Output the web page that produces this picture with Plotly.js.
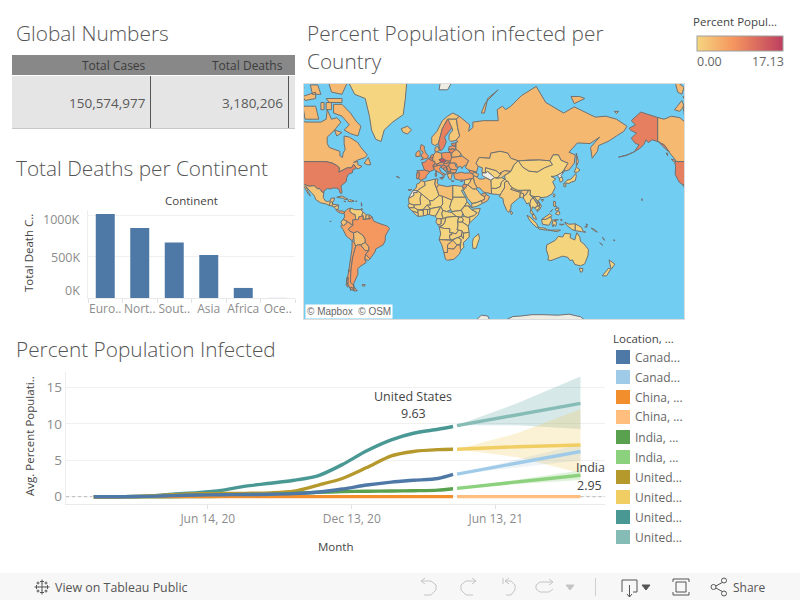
<!DOCTYPE html>
<html><head><meta charset="utf-8"><script src="https://cdn.plot.ly/plotly-3.0.1.min.js"></script>
<style>html,body{margin:0;padding:0;background:#fff}</style></head>
<body><div id="g" style="width:800px;height:600px"></div>
<script>
// ---------- table ----------
const tableHeaders = ["Total Cases","Total Deaths"];
const tableValues  = ["150,574,977","3,180,206"];
// ---------- bars ----------
const continents = ["Euro..","Nort..","Sout..","Asia","Africa","Oce.."];
const continentDeaths = [1016750,847942,672415,520269,121784,1046];
const deathTicks = [0,500000,1000000];
const deathTickLabels = ["0K","500K","1000K"];
// ---------- lines ----------
const months = ["2020-01-22","2020-02-01","2020-03-01","2020-04-01","2020-05-01","2020-06-01","2020-07-01","2020-08-01","2020-09-01","2020-10-01","2020-11-01","2020-12-01","2021-01-01","2021-02-01","2021-03-01","2021-04-01","2021-04-20"];
const usActual     = [0,0,0.01,0.1,0.35,0.55,0.85,1.45,1.85,2.25,2.9,4.4,6.3,7.8,8.7,9.25,9.63];
const ukActual     = [0,0,0.01,0.1,0.26,0.4,0.43,0.46,0.52,0.75,1.6,2.5,4.0,5.6,6.2,6.45,6.5];
const indiaActual  = [0,0,0,0,0,0.02,0.05,0.12,0.27,0.46,0.6,0.7,0.75,0.78,0.82,0.9,1.1];
const chinaActual  = [0,0,0.005,0.006,0.006,0.006,0.006,0.006,0.006,0.006,0.006,0.007,0.007,0.007,0.007,0.007,0.007];
const canadaActual = [0,0,0.002,0.05,0.15,0.23,0.27,0.3,0.33,0.42,0.65,1.05,1.6,2.0,2.25,2.5,3.05];
const fcDates = ["2021-04-25","2021-07-10","2021-09-28"];
const usFc     = [9.75,11.2,12.8],  usHi=[9.8,12.8,16.5], usLo=[9.8,9.8,9.3];
const ukFc     = [6.5,6.85,7.1],    ukHi=[6.5,8.7,12.0],  ukLo=[6.5,5.4,3.25];
const canadaFc = [3.1,4.6,6.2],     canadaHi=[3.1,5.1,7.2], canadaLo=[3.1,4.0,5.0];
const indiaFc  = [1.15,2.0,2.95],   indiaHi=[1.15,2.3,3.6], indiaLo=[1.15,1.75,2.3];
const chinaFc  = [0.007,0.007,0.007];
const legendLabels = ["Canad...","Canad...","China, ...","China, ...","India, ...","India, ...","United...","United...","United...","United..."];
const legendColors = ["#4e79a7","#a0cbe8","#f28e2b","#ffbe7d","#59a14f","#8cd17d","#b6992d","#f1ce63","#499894","#86bcb6"];
// ---------- map: [name, percent infected (null = no data), polygons as lon,lat lists] ----------
const countries = [
["Canada",3.2,[[-141,69.6,-135,69,-128,70,-120,69.5,-115,68,-108,68,-100,68,-95,69,-94,72,-90,69,-85,69.5,-81,68,-87,65,-94,62,-94,59,-92,57,-85,55.5,-82,55,-82,52.5,-79.5,51.5,-79,54,-77,56,-78,59,-78,62.5,-73,62,-70,61,-65,59.5,-62,57,-56,53,-58,51.5,-65,50,-69,48.5,-65,49,-65,47,-61,46,-64,44.5,-66,44.5,-67,45.5,-69,47.3,-71,45,-75,45,-79,43.5,-83,42,-82.5,45,-85,46.5,-89,48,-95,49,-123,49,-130,54.5,-135,58.5,-137.5,59,-141,60.3],
[-80,73.5,-72,71,-66,68,-62,66.5,-65,62.5,-72,63.5,-78,65,-73,67,-80,70,-88,71,-88,73.5],[-117,73,-105,73,-102,69,-115,69],[-90,76.5,-80,76,-76,78,-65,81,-70,83,-90,82,-95,80],[-125,72,-118,74.5,-116,73,-120,71.5],[-95,75,-80,75,-80,74,-92,74],[-95,72,-90,72,-90,74,-95,74],[-117,75.5,-105,76.5,-105,75,-115,74.5],[-87,65,-80,64,-85,62.5],[-59,48,-55,51.5,-52.7,47,-56,47],[-128,50.5,-125,50,-123.5,48.5,-125.5,48.8],[-100,74,-97,74,-97,72,-100,72],[-110,78,-103,78,-100,76,-108,76],[-125,79,-116,77.5,-118,76,-122,76.5],[-133,54,-131.5,54,-131.5,52.5]]],
["USA",9.77,[[-124.7,48.4,-123,49,-95,49,-89,48,-85,46.5,-82.5,45,-83,42,-79,43.5,-75,45,-71,45,-69,47.3,-67,45.5,-67,44.5,-70,43.5,-70,41.7,-74,40.5,-75.5,38,-76,35,-78,33.8,-81,31.5,-80,27,-80.5,25.2,-82,26,-83,29,-85,29.7,-89,30,-90,29,-94,29.5,-97,27.5,-97.2,26,-99,26.5,-101.5,29.7,-103,29,-106.5,31.8,-111,31.3,-114.8,32.5,-117.1,32.5,-120.5,34.5,-122.5,37.5,-124.3,40.4,-124,46],
[-141,69.6,-141,60.3,-137.5,59,-135,58.5,-130,54.8,-133,56,-137,58.2,-140,59.8,-146,60.8,-150,59.5,-152,60.8,-154,58.5,-158,56.5,-163,54.8,-158.5,58.5,-162,59,-166,61.5,-161,63.8,-166,64.7,-168,65.7,-162,67,-166,68.5,-157,71.3,-150,70.5],[-163,54.8,-170,52.8,-178,51.7,-170,53],[-156,20.8,-155,19.7,-155.8,19,-156,19.8]]],
["Mexico",1.8,[[-117.1,32.5,-114.8,32.5,-111,31.3,-106.5,31.8,-103,29,-101.5,29.7,-99,26.5,-97.2,26,-97.8,22,-96,19,-94,18.2,-91,18.8,-90.5,21,-87,21.5,-88,18.3,-89,17.8,-91,17.8,-92.2,14.6,-95,16,-100,17,-105,20,-106,23,-109,26,-112.5,30,-114.7,31.7,-112,27,-110,23,-112,25,-115,29]]],
["Guatemala",1.3,[[-92.2,14.6,-91,17.8,-89,17.8,-89,15.9,-88.2,15.7,-89.5,14.2]]],
["Honduras",2,[[-89,15.9,-83.2,15,-84,14,-87.5,13,-89.5,14.2]]],
["Nicaragua",0.1,[[-83.2,15,-83.7,11,-85.7,11,-87.5,13]]],
["Panama",6,[[-85.7,11,-83.7,11,-82.6,9.5,-79.5,9.6,-77.4,8.7,-78,7.3,-80.5,7.3,-83,8.2,-85.5,10]]],
["Cuba",0.9,[[-85,22,-80,23.2,-74.2,20.2,-77.5,19.9,-78,21]]],
["Hispaniola",1.9,[[-74.4,18.5,-72.8,20,-68.5,18.7,-71,18]]],
["Jamaica",1.5,[[-78.3,18.4,-76.3,18.1,-77,17.8]]],
["Puerto Rico",3,[[-67.2,18.5,-65.7,18.4,-66,18]]],
["Antilles",2,[[-61.8,17.2,-61,15,-61.5,14],[-61.5,12.2,-60.5,11,-61.8,10]]],
["Colombia",5.6,[[-77.4,8.7,-75.5,10.8,-72,12.3,-72.5,9,-70,7,-67.5,6.2,-67,1.5,-70,1,-69.5,-4.2,-72,-2.5,-75.5,0,-79,1.5,-77.5,4,-78,7.3]]],
["Venezuela",0.6,[[-72,12.3,-68,10.8,-62,10.7,-60,8.5,-61,6,-61,4.5,-64,4,-64.5,1.5,-67,1.5,-67.5,6.2,-70,7,-72.5,9]]],
["Guyana",1.6,[[-60,8.5,-57,6,-57.5,2,-60,1.5,-60,5,-61,6]]],
["Suriname",1.7,[[-57,6,-54,5.8,-54.5,2.3,-57.5,2]]],
["Guiana",6,[[-54,5.8,-51.7,4.2,-53,2.2,-54.5,2.3]]],
["Ecuador",2.2,[[-80,-3.4,-81,-1,-79,1.5,-75.5,0,-75.3,-1.6,-78.5,-4.5],[-91.5,-0.3,-90.2,-0.3,-91,-1]]],
["Peru",5.5,[[-81.3,-4.5,-80,-3.4,-78.5,-4.5,-75.3,-1.6,-75.5,0,-72,-2.5,-69.9,-4.3,-74,-7.5,-72.5,-9.5,-69,-11,-69,-16,-70.4,-18.3,-76,-14,-79,-8]]],
["Bolivia",2.6,[[-69,-11,-65.5,-9.8,-60,-13.5,-58,-17,-58,-20,-62.5,-22,-65,-22,-67,-23,-68.5,-20,-69,-16]]],
["Paraguay",3.5,[[-58,-20,-62.5,-22,-58,-27,-54.6,-27,-54.5,-24,-55.8,-22]]],
["Chile",6.2,[[-70.4,-18.3,-68.5,-20,-67,-23,-70,-33,-71.5,-42,-72,-50,-69,-52,-68.6,-55,-72,-54,-75.5,-50,-73.5,-42,-72,-33,-70.5,-25],[-74,-42,-73.3,-42,-73.6,-43.5],[-75.5,-47,-74,-47,-74.5,-53,-76,-52],[-72,-53,-69,-53.5,-72,-54.8]]],
["Argentina",6.6,[[-67,-23,-65,-22,-62.5,-22,-58,-27,-54.6,-27,-57.6,-30,-58.4,-34,-57,-36.5,-62,-39,-65,-41,-65,-45,-69,-51,-68.6,-52.5,-69,-52,-72,-50,-71.5,-42,-70,-33],[-68.6,-52.7,-65.5,-55,-68.6,-55]]],
["Uruguay",4.6,[[-58.4,-34,-57.6,-30,-53.5,-33.7,-55,-35]]],
["Brazil",7,[[-51.7,4.2,-50,0,-44,-2.5,-37,-4.8,-35,-7,-39,-14,-39,-18,-41,-22,-48,-25.5,-48.7,-28,-53.5,-33.7,-57.6,-30,-54.6,-27,-54.5,-24,-55.8,-22,-58,-20,-58,-17,-60,-13.5,-65.5,-9.8,-69,-11,-72.5,-9.5,-74,-7.5,-69.9,-4.3,-69.5,-4.2,-70,1,-67,1.5,-64.5,1.5,-64,4,-61,4.5,-60,5,-60,1.5,-57.5,2,-54.5,2.3,-53,2.2]]],
["Falklands",1.7,[[-61,-51.5,-58,-51.5,-58.5,-52.3,-60.5,-52.3]]],
["Greenland",0.05,[[-73,78.2,-60,82,-32,83.5,-18,80,-20,75,-22,70.5,-32,68,-40,65,-43,60,-48,61,-52,65,-54,70,-58,75,-68,76]]],
["Iceland",1.9,[[-24,65.5,-18,66.5,-14,65,-18,63.4,-22,64]]],
["UK",6.5,[[-5.5,50,1.3,51.2,1.7,52.7,0,53.5,-2,56,-2,57.6,-5,58.6,-6,56,-3,54.5,-4.5,53.3,-5,52,-3,51.4]]],
["Ireland",5,[[-10,52,-6,52.2,-6,55,-8,55.3,-10,54]]],
["France",8.6,[[-1.8,43.4,-4.5,48.4,-1.5,48.7,1.5,50.9,4.2,50,8.2,49,7.5,47.5,6,46.2,7.5,43.8,3.2,42.4,0.7,42.8],[8.6,43,9.5,42.8,9.2,41.5]]],
["Spain",7.5,[[-9.2,43,-1.8,43.4,0.7,42.8,3.2,42.4,0,39.5,-0.7,37.7,-5.5,36,-7.4,37.2,-7,42],[-17.5,28.5,-14,28.5,-15.5,27.8]]],
["Portugal",8,[[-9,41.9,-7,42,-7,39.5,-7.4,37.2,-9,37,-9.5,38.8],[-28.5,38.8,-27,38.8,-25.5,37.8,-27.5,38.2]]],
["Netherlands",8.2,[[3.4,51.4,4.7,53,7,53.3,6,51]]],
["Belgium",8.4,[[2.5,51,3.4,51.4,6,51,6,49.5,4.2,50]]],
["Germany",4,[[6,51,7,53.3,9,54.8,14,54,15,51,12,50.2,13.8,48.7,10,47.4,7.5,47.5,8.2,49,6,49.5]]],
["Switzerland",7.4,[[6,46.2,7.5,47.5,10,47.4,10.4,46.5,8.5,46]]],
["Austria",6.9,[[10,47.4,13.8,48.7,17,48.7,16,46.8,12.5,46.7,10.4,46.5]]],
["Italy",6.6,[[7.5,43.8,6.9,45.8,8.5,46,12.5,46.7,13.7,45.7,12.3,44.5,14,42,18.5,40.2,16.9,40.4,16.5,38,15.7,38,15.7,40,12.5,41.5,10.3,43],[12.5,38,15.5,38.2,15,36.7],[8.2,41,9.7,41,9.5,39,8.5,39]]],
["Poland",7.4,[[14,54,19,54.4,23,54.3,24,50.7,22.6,49.2,19,49.4,15,51]]],
["Czechia",15.3,[[12,50.2,15,51,19,49.6,17,48.7,13.8,48.7]]],
["Slovakia",7,[[17,48.7,19,49.5,22.6,49.2,22,48.4,18,47.8]]],
["Hungary",8,[[16,46.8,17,48,18,47.8,22,48.4,21,46.2,18.8,45.9]]],
["Denmark",4.2,[[8,55,8.2,57,10.5,57.7,12.5,55.5,9.8,54.8]]],
["Norway",2,[[5,59,5,62,10,64.5,15,68.5,20,70,25,71,31,70,28.5,69,25,69,20,69,15,65.5,12.5,61,11.3,59,8,58]]],
["Sweden",9.7,[[11.3,59,12.5,61,15,65.5,20,69,23.5,68,24,65.8,21,64,17.2,62,18.8,59.8,16.5,57,14.3,55.5,13,55.5]]],
["Finland",1.6,[[20.5,69,25,69,28.5,69,29.5,66,31.5,62.5,27.8,60.5,23,60,21.3,61,21.5,63,25,65,23.9,66]]],
["Estonia",9,[[23.5,59,28,59.4,27.3,57.6,24.5,58]]],
["Latvia",6,[[21,56,21.5,57.5,24.5,57.8,27.3,57.6,28,56,25,56.3]]],
["Lithuania",8.5,[[21,56,25,56.3,26.7,55.6,24,54,21,55.2]]],
["Belarus",3.8,[[24,54,26.7,55.6,28,56,31,55,32.7,53.4,31,52,24,51.5]]],
["Ukraine",4.8,[[24,51.5,31,52,34,52.3,40,49.6,38,47,35,46,33.6,44.5,32.5,46,30,45.5,29.6,45.3,28,48,22.5,48,22.6,49.2,24,50.7]]],
["Romania",5.5,[[21,46.2,22,48,26.5,48.2,28.2,45.5,29.6,45,28.6,43.7,25,43.7,22.7,44.2]]],
["Bulgaria",5.5,[[22.7,44.2,25,43.7,28.6,43.7,28,42,26,41.4,23,41.5]]],
["Serbia",8,[[18.8,45.9,21,46.2,22.7,44.2,23,42.5,20.5,42.5,19.3,44.5]]],
["Croatia",8,[[13.7,45.4,16,46.8,18.8,45.9,19,45,16,44,18.5,42.5,15,44]]],
["Bosnia",6,[[16,45,19.3,44.8,18.5,42.8,16,44]]],
["Albania",4.5,[[19,42.3,20.5,42.5,20.5,40,19.5,40.5]]],
["Macedonia",7,[[20.5,42.3,23,42.3,23,41.2,20.6,41]]],
["Greece",3,[[20,39.7,20.6,41,26,41.4,24,40.2,23.8,38,23,36.5,21.6,37],[23.5,35.5,26.3,35.3,24.5,35]]],
["Cyprus",7,[[32.3,35,34.5,35.6,33,34.6]]],
["Turkey",5.5,[[26,41.4,26,40,27,37,30,36.3,36,36.2,42.5,37.2,44.6,37.5,44.5,39.7,43.5,41,41.5,41.5,36,41.3,33,42,29,41.2]]],
["Russia",3.3,[[28,56,28,59.4,30,60,27.8,60.5,31.5,62.5,29.5,66,28.5,69,31,70,41,67,40,64.5,44,66,44,68,54,68.5,68,68.5,67,72,72,73,75,72,80,73,90,75.7,104,77.7,113,74,130,71,140,72.8,160,69.7,170,70,180,69,190,66.5,187,64.5,180,62.5,172,60,163,58,162,55,157,51,155.5,57,164,62,155,59,143,59.3,135,54.5,141,53,140,48,135,43.5,131,42.8,130.5,44,134,48,127.5,49.8,125,53,120,53,117,49.5,107,50,98,50,87,49.5,80,51,77,54,70,55,61,54,60,51,50,51.5,47,48,49,46,47.5,42,40,43.5,37,45,38,47,40,49.6,34,52.3,32.7,53.4,31,55],[142,54,144,49,142,46,142,50],[52,71,56,74,68,77,58,75,55,71],[137,75.5,145,75.5,150,75,140,73.7],[178,71.5,182,71.5,180,70.8]]],
["Kazakhstan",1.7,[[47,48,50,51.5,60,51,61,54,70,55,77,54,80,51,87,49.5,83,47,80,42.5,74,43,69,41,66,43,61,44,56,45,56,41.5,52.5,42,53,45,49,46]]],
["Turkmenistan",null,[[52.8,41.5,56,41.5,58,42.5,62,40,66,37.5,64.5,38,61,36,56,38,53,39.5]]],
["Uzbekistan",0.25,[[56,45,61,44,66,43,69,41,71,41,67,38,64.5,38,62,40,58,42.5,56,41.5]]],
["Kyrgyzstan",1.5,[[69,41,74,43,80,42.5,73.5,39.5,70,37,67,37.5,71,41]]],
["Afghanistan",0.15,[[61,36,64.5,38,67,37.5,71,38,74.5,37,71,34.5,70,31,66,29.5,61,29.7]]],
["Pakistan",0.37,[[61,29.7,66,29.5,70,31,71,34.5,74.5,37,77,35,74,30,71,26,70,24,67,24.5,61.7,25]]],
["Iran",2.9,[[44.6,37.5,44.5,39.7,48,38.5,50,37,54,37,56,38,61,36,61,30,61.7,25,57,26,54,26.5,50.5,30,48,30,45.5,34]]],
["Iraq",2.2,[[42.5,37.2,44.6,37.5,45.5,34,48,30,46.5,29,44,29,39,32.5,41,34.5]]],
["Syria",0.12,[[36,36.2,42.5,37.2,41,34.5,39,32.5,36,33]]],
["Jordan",7,[[35,33,36,33,39,32.5,37,30,35,29.5,34.3,31.3]]],
["Saudi Arabia",1.2,[[39,32.5,44,29,46.5,29,48.5,28,50,26,51.5,24.5,55,22.5,55,20,52,19,47,17,43,16.5,42,18,39,21,35,28,37,30]]],
["Yemen",0.02,[[43,12.8,43,16.5,47,17,52,19,53,16.5,48,14]]],
["Oman",3.7,[[52,19,55,20,55,22.5,56.5,24.5,59.8,22.5,58,19,53,16.5]]],
["UAE",5,[[51.5,24.5,56,26,56.5,24.5,55,22.5]]],
["Georgia",7,[[40,43.5,47.5,42,43.5,41,41.5,41.5]]],
["Azerbaijan",3,[[43.5,41,46,41.8,49.5,40.5,48,38.5,44.5,39.7]]],
["Mongolia",0.7,[[87,49.5,98,50,107,50,117,49.5,119.5,47,112,45,105,42,97,42.7,91,45.5]]],
["China",0.007,[[74,39.5,80,42.5,83,47,87,49.5,91,45.5,97,42.7,105,42,112,45,119.5,47,117,49.5,120,53,125,53,127.5,49.8,134,48,130.5,44,128,41.5,124.3,40,121,39,118,39,122.5,37,119.5,35,122,30.5,119,25,114,22.3,108.5,21.7,106,22.7,102,22.5,98,24,98.5,28,92,28,86,28,81,30.2,78.5,33,74.5,37],[108.7,20,111,20,110,18.3]]],
["North Korea",null,[[124.3,40,128,41.5,130.5,42.5,127.5,39.5,128.3,38.6,126,37.7,125,38]]],
["South Korea",0.23,[[126,37.7,128.3,38.6,129.4,36,127,34.5,126.3,35.5]]],
["Japan",0.45,[[131,34,133,36,137,37,140,40,141.5,41,142,39,140.8,35.5,137,34.6,135,33.5],[130,33.5,132,33,132,31,130.3,31],[140,42,142,45.5,145.5,43.5,143,42]]],
["Taiwan",0.01,[[121,25,122,24,120.8,22,120,23.5]]],
["India",1.4,[[74,34.5,77,35.5,78.5,33,81,30.2,80,28.8,88,26.5,89,27,92,28,97,28,94,24,92,23,92,25,89,26,88.5,22,87,21,80.2,15.5,80,12,78,8.2,76,10,73,17,72.5,21,69,22.5,70,24,71,26,74,30]]],
["Nepal",1,[[80,28.8,81,30.2,86,28,88,27.8,88,26.5]]],
["Bangladesh",0.45,[[88.5,22,89,26,92,25,92,23,92,21,90,22]]],
["Sri Lanka",0.5,[[80,9.8,81.8,7.5,80.5,6,79.7,8]]],
["Myanmar",0.26,[[92,21,92,23,94,24,97,28,98.5,28,98,24,101,21.5,99,20,98,16,99,12,98,14,97,17,95,16,94,18]]],
["Thailand",0.08,[[101,21.5,105.5,15,102.5,12.3,100.5,13.5,99.5,10,102,6,100,6.5,98.2,8,99,12,98,16,99,20]]],
["Laos",0.01,[[101,21.5,102,22.5,106,18,107.5,15,105.5,14,105,18]]],
["Vietnam",0.01,[[102,22.5,106,22.7,108.5,21.7,105.8,19,109,14,107,10.5,105,8.7,105,10.5,107.5,14.5,106,18]]],
["Cambodia",0.05,[[102.5,12.3,105.5,14,107.5,14,106,11,104.5,10.5]]],
["Malaysia",1.2,[[100.2,6.5,102,6,103.5,4,104.2,1.5,101,3],[109.6,2,113,4.5,117,7,119,5,117.5,4,113,1.5]]],
["Indonesia",0.6,[[95.3,5.5,98,4,104,-2,106,-5.8,104,-5.8,100,-2,97,2],[109,1.5,113,1.5,117.5,4,119,1,116,-4,110,-3],[105.5,-6.2,111,-6.5,114.5,-7.8,114.5,-8.7,106.5,-7.5],[120,1,125,1.5,121,0,123.3,-1,122.5,-5,120.5,-3,120,-5.5,119,-3],[131,-1,135,-3,141,-2.6,141,-9,138,-8,133,-4],[115,-8.5,120,-8.3,125,-8.3,127,-8.5,124,-10,119,-9.5],[127.3,2,128.7,1,127.6,0],[126,-3,130.5,-3,128,-3.8]]],
["PNG",0.1,[[141,-2.6,147,-6,148,-9,151,-10.5,147,-10,143,-9,141,-9],[150,-5.5,152,-4.2,152,-6],[152.7,-3.2,151,-2.8,152.5,-4]]],
["Philippines",0.9,[[120.5,18.5,122.3,18,122,15,124,13,120.5,14],[122,7,125.5,9.7,126.5,7,125,5.8],[122,11.5,125.5,12.5,125,10,123,9.5],[117.3,8.5,119.5,11,118,9]]],
["Solomon",0.01,[[156,-6.5,160,-8.5,162,-10.5,159,-9]]],
["Vanuatu",0.01,[[166.7,-15,167.6,-16,168.7,-18,168,-16.5]]],
["New Caledonia",0.01,[[164,-20,167,-22.3,165.5,-21.8]]],
["Fiji",0.01,[[177.3,-17.5,178.7,-18,177.5,-18.3]]],
["Australia",0.12,[[114,-22,113.5,-26,115.7,-32,115,-34.5,118,-35,124,-33,129,-31.5,134,-32.5,136,-35,138.5,-34.5,140.5,-38,146,-39,150,-37.5,153,-31,153.5,-26,149,-21,146,-19,145.3,-15,142.5,-11,141.5,-14,140.5,-17.7,136,-15.5,136.8,-12.2,131,-11.5,129,-15,125,-14.3,122,-18,117,-20.5],[144.7,-40.7,148.3,-41,147.5,-43.4,146,-43.5]]],
["New Zealand",0.05,[[172.7,-40.6,174.3,-41.7,170.7,-46,166.5,-46],[173,-34.5,178.5,-37.7,175,-41.5,174,-39]]],
["Morocco",1.4,[[-5.5,35.8,-2,35,-1,32.2,-5,30,-8.7,27.7,-13,27.7,-9.7,30,-9.2,33,-6.5,34]]],
["Western Sahara",null,[[-13,27.7,-8.7,27.7,-8.7,26,-12,26,-12,23.5,-17,21,-15,24.5]]],
["Algeria",0.28,[[-2,35,8.6,37,8,33,9.5,30,12,23.5,6,19,3,19,-4.8,25,-8.7,27.7,-5,30,-1,32.2]]],
["Tunisia",2.6,[[8.6,37,11,37,10.2,34,11.5,32.5,9.5,30,8,33]]],
["Libya",2.5,[[11.5,32.5,15,32,20,31,25,32,25,20,24,19.5,15,23,12,23.5,9.5,30]]],
["Egypt",0.2,[[25,32,31,31.5,34,31.3,35,28,33,28,35.5,24,37,22,25,22]]],
["Mauritania",0.4,[[-17,21,-12,23.5,-12,26,-8.7,26,-8.7,27.7,-4.8,25,-6,21,-5.5,15.5,-12,15,-16.5,16.5]]],
["Mali",0.06,[[-4.8,25,3,19,4,15,0.5,15,-3,11,-8,10.5,-11.5,12.5,-12,15,-5.5,15.5,-6,21]]],
["Niger",0.02,[[3,19,6,19,12,23.5,15,23,15.5,16,13.5,13.5,3.5,11.7,0.5,15,4,15]]],
["Chad",0.03,[[15,23,24,19.5,22,13,24,11,19,9,15.5,10,13.5,13.5,15.5,16]]],
["Sudan",0.08,[[25,22,37,22,38.5,18,36,14,33,11,33,10,24,9,22,13,24,19.5,25,20]]],
["South Sudan",0.09,[[24,9,33,10,34.5,7.5,33.5,3.7,28,4.5,24,8]]],
["Senegal",0.2,[[-17.5,14.7,-16.5,16.5,-12,15,-11.5,12.5,-16.7,12.4]]],
["Guinea",0.17,[[-16.7,12.4,-11.5,12.5,-8,10.5,-8,7.7,-10.5,8.5,-13.5,9.5]]],
["Liberia",0.04,[[-13.5,9.5,-10.5,8.5,-8,7.7,-7.5,4.4,-9,5]]],
["Ivory Coast",0.17,[[-8,10.5,-3,10,-2.8,5,-7.5,4.4,-8,7.7]]],
["Burkina",0.06,[[-3,11,0.5,15,3.5,11.7,2.4,11,-3,10]]],
["Ghana",0.3,[[-3,11,-2.8,5,1,6,1,11]]],
["Benin",0.06,[[1,6,2.8,6.3,3.5,11.7,2.4,11,1,11]]],
["Nigeria",0.08,[[2.8,6.3,4.5,5.5,8.5,4.7,10,7,13.5,13.5,3.5,11.7]]],
["Cameroon",0.25,[[8.5,4.7,9.8,2.2,16,2.2,14.5,7,15.5,10,13.5,13.5,10,7]]],
["CAR",0.13,[[14.5,7,15.5,10,19,9,24,8,28,4.5,18.5,3.5,16,2.2]]],
["Gabon",0.9,[[9.8,2.2,14,2.2,14,-2.5,11,-3.8,9,-1]]],
["Congo",0.2,[[14,2.2,16,2.2,18.5,3.5,17.5,-1,16,-3.5,12,-5,11,-3.8,14,-2.5]]],
["DRC",0.03,[[18.5,3.5,28,4.5,30.5,3.5,29.5,-1,30,-4,29,-8,30.5,-8.5,28,-12,24,-11,22,-11,22,-7,17,-7,13,-6,12.3,-6,16,-3.5,17.5,-1]]],
["Uganda",0.09,[[30.5,3.5,33.5,3.7,35,1.5,34,-1,29.5,-1]]],
["Kenya",0.29,[[34,-1,35,1.5,33.5,3.7,34.5,4.5,36,4.5,39.5,3.5,41,4,41,-1.7,39.5,-4.7]]],
["Ethiopia",0.22,[[33,10,36,14,39,14.5,42.5,11,48,8,45,5,41,4,39.5,3.5,36,4.5,34.5,7.5]]],
["Eritrea",0.1,[[36,14,38.5,18,43,12.8,39,14.5]]],
["Somalia",0.09,[[42.5,11,51,12,49,6,41,-1.7,41,4,45,5,48,8]]],
["Tanzania",0.01,[[34,-1,39.5,-4.7,40.4,-10.5,35,-11.5,34,-9.5,30.5,-8.5,29,-8,30,-4,29.5,-1]]],
["Angola",0.08,[[12,-5,13,-6,17,-7,22,-7,22,-11,24,-11,24,-13,22,-13,22,-16,24,-17.5,12,-17.3,13.5,-12]]],
["Zambia",0.5,[[22,-13,24,-13,24,-11,28,-12,30.5,-8.5,34,-9.5,33,-14,30,-15.5,28,-16,24,-17.5,22,-16]]],
["Namibia",1.9,[[12,-17.3,24,-17.5,25,-18,20,-22,20,-28.5,16.5,-28.5,14.5,-22]]],
["Botswana",2,[[20,-22,25,-18,29,-22,26,-25.7,23,-25.5,20,-25]]],
["Zimbabwe",0.25,[[25,-18,28,-16,30,-15.5,33,-17,32.5,-21,29,-22]]],
["Malawi",0.18,[[34,-9.5,35,-11.5,35,-16.5,33,-14]]],
["Mozambique",0.22,[[40.4,-10.5,40.5,-15,35,-20,35.5,-24,32.8,-26.5,32,-25,32.5,-21,33,-17,30,-15.5,33,-14,35,-16.5,35,-11.5]]],
["South Africa",2.7,[[16.5,-28.5,20,-28.5,20,-25,23,-25.5,26,-25.7,29,-22,32,-22.4,32,-25,32.8,-26.5,31,-30,26,-34,20,-34.8,18,-34]]],
["Madagascar",0.14,[[49.3,-12,50.3,-16,47,-25,44,-25,43.5,-20,44.5,-16]]],
["Svalbard",null,[[12,77,20,77,24,78.5,14,79.5]]],
["Antarctica",null,[[47,-68,52,-66.2,58,-66.5,60,-68],[75,-68,82,-66.7,90,-66.5,100,-66,110,-66,125,-66.2,135,-65.8,146,-66.8,150,-68]]]
];

// ---------- helpers ----------
const FONT='"Open Sans", sans-serif';
const PX=x=>x/800, PY=y=>1-y/600;
const ramp=[[0,[245,213,127]],[0.42,[245,150,95]],[1,[189,62,96]]];
const rampScale=ramp.map(s=>[s[0],`rgb(${s[1].join(',')})`]);
function valueColor(v){
  if(v===null) return '#efece4';
  const t=Math.min(1,v/17.13);
  let i=t<ramp[1][0]?0:1;
  const a=ramp[i],b=ramp[i+1],f=(t-a[0])/(b[0]-a[0]);
  return 'rgb('+a[1].map((c,k)=>Math.round(c+(b[1][k]-c)*f)).join(',')+')';
}
const merc=lat=>Math.log(Math.tan(Math.PI/4+lat*Math.PI/360));
function text(s,x,y,o={}){
  const a=o.a||'left', dx=a==='left'?-2:(a==='right'?2:0);
  return {text:s,xref:'paper',yref:'paper',x:PX(x+dx),y:PY(y),xanchor:a,yanchor:'middle',showarrow:false,
  font:{family:FONT,size:o.s||12,color:o.c||'#555',weight:o.w||400},textangle:o.r||0};}
function rect(x0,y0,x1,y1,fill,line,layer){return {type:'rect',xref:'paper',yref:'paper',x0:PX(x0),x1:PX(x1),y0:PY(y0),y1:PY(y1),fillcolor:fill,line:line?{color:line,width:1}:{width:0},layer:layer||'below'};}
function poly(pts,color,w,closed,fill){let d='';for(let i=0;i<pts.length;i+=2)d+=(i?'L':'M')+PX(pts[i]).toFixed(5)+','+PY(pts[i+1]).toFixed(5);
  return {type:'path',xref:'paper',yref:'paper',path:d+(closed?'Z':''),line:{color:color,width:w||1},fillcolor:fill||'rgba(0,0,0,0)',layer:'above'};}

// ---------- traces ----------
const data=[];
data.push({type:'bar',x:continents,y:continentDeaths,marker:{color:'#4e79a7'},xaxis:'x',yaxis:'y',hoverinfo:'skip',showlegend:false});
function band(hi,lo,color){return {type:'scatter',mode:'lines',x:fcDates.concat(fcDates.slice().reverse()),y:hi.concat(lo.slice().reverse()),fill:'toself',fillcolor:color,line:{width:0},xaxis:'x2',yaxis:'y2',hoverinfo:'skip',showlegend:false};}
data.push(band(usHi,usLo,'rgba(73,152,148,0.22)'));
data.push(band(ukHi,ukLo,'rgba(241,206,99,0.28)'));
data.push(band(canadaHi,canadaLo,'rgba(130,170,200,0.14)'));
data.push(band(indiaHi,indiaLo,'rgba(140,209,125,0.28)'));
data.push({type:'scatter',mode:'lines',x:['2019-12-18','2020-01-20',null,'2021-09-28','2021-10-29'],y:[0,0,null,0,0],line:{color:'#b5b5b5',width:1,dash:'dot'},xaxis:'x2',yaxis:'y2',hoverinfo:'skip',showlegend:false});
function ln(x,y,color,smooth){return {type:'scatter',mode:'lines',x:x,y:y,line:{color:color,width:3.4,shape:smooth?'spline':'linear',smoothing:0.8},xaxis:'x2',yaxis:'y2',hoverinfo:'skip',showlegend:false};}
data.push(ln(fcDates,usFc,legendColors[9]));
data.push(ln(fcDates,ukFc,legendColors[7]));
data.push(ln(fcDates,indiaFc,legendColors[5]));
data.push(ln(fcDates,chinaFc,legendColors[3]));
data.push(ln(fcDates,canadaFc,legendColors[1]));
data.push(ln(months,usActual,legendColors[8],true));
data.push(ln(months,ukActual,legendColors[6],true));
data.push(ln(months,indiaActual,legendColors[4],true));
data.push(ln(months,chinaActual,legendColors[2],true));
data.push(ln(months,canadaActual,legendColors[0],true));
countries.forEach(c=>{
  const xs=[],ys=[];
  [0,360].forEach(shift=>c[2].forEach(p=>{
    for(let i=0;i<p.length;i+=2){xs.push(p[i]+shift);ys.push(merc(p[i+1]));}
    xs.push(p[0]+shift,null);ys.push(merc(p[1]),null);
  }));
  data.push({type:'scatter',mode:'lines',x:xs,y:ys,fill:'toself',fillcolor:valueColor(c[1]),line:{color:'#707070',width:1},xaxis:'x3',yaxis:'y3',hoverinfo:'skip',showlegend:false,connectgaps:false,name:c[0]});
});
const vals=countries.map(c=>c[1]).filter(v=>v!==null);
data.push({type:'scatter',mode:'markers',x:vals.map(()=>0),y:vals.map(()=>0),xaxis:'x3',yaxis:'y3',hoverinfo:'skip',showlegend:false,
  marker:{size:0,opacity:0,color:vals,cmin:0,cmax:17.13,colorscale:rampScale,showscale:true,
    colorbar:{orientation:'h',x:PX(740.3),xanchor:'center',y:PY(44),yanchor:'middle',lenmode:'pixels',len:86,thicknessmode:'pixels',thickness:15,xpad:0,ypad:0,
      outlinecolor:'#a0a0a0',outlinewidth:1,ticks:'',showticklabels:false,borderwidth:0,bgcolor:'rgba(0,0,0,0)'}}});

// ---------- layout ----------
const shapes=[], ann=[];
shapes.push(rect(12,55,295,75,'#888888'));
shapes.push(rect(12,76,295,128,'#e5e5e5'));
shapes.push(rect(12,128,295,129,'#c8c8c8'));
shapes.push(rect(150,76,151,128,'#555555'));
shapes.push(rect(288,76,289,128,'#555555'));
const colRight=[146,283];
tableHeaders.forEach((h,i)=>ann.push(text(h,colRight[i],66,{a:'right',s:12,c:'#3c3c3c',w:500})));
tableValues.forEach((h,i)=>ann.push(text(h,colRight[i],102.5,{a:'right',s:13.5,c:'#5a5a5a'})));
const T={s:20.8,c:'#555',w:300};
ann.push(text('Global Numbers',16,32.5,T));
ann.push(text('Total Deaths per Continent',16,167.5,T));
ann.push(text('Percent Population infected per',307,32.5,T));
ann.push(text('Country',307,60.5,T));
ann.push(text('Percent Population Infected',16,348.5,T));
ann.push(text('Continent',191.5,201,{a:'center',s:11.5,c:'#444',w:500}));
ann.push(text('Total Death C..',29,253,{a:'center',s:11.5,c:'#444',r:-90}));
const shifts=[8,-1,-4];
deathTicks.forEach((v,i)=>ann.push({text:deathTickLabels[i],xref:'paper',yref:'y',x:PX(82),y:v,xanchor:'right',yanchor:'middle',yshift:shifts[i],showarrow:false,font:{family:FONT,size:12.5,color:'#8c8c8c'}}));
ann.push(text('Avg. Percent Populati..',29,436,{a:'center',s:11.5,c:'#444',r:-90}));
ann.push(text('Month',335,546,{a:'center',s:11.5,c:'#444',w:500}));
ann.push(text('United States',413,396,{a:'center',s:12.5,c:'#444'}));
ann.push(text(String(usActual[usActual.length-1]),413,414,{a:'center',s:12.5,c:'#444'}));
ann.push(text('India',590,467,{a:'center',s:12.5,c:'#444'}));
ann.push(text(String(indiaFc[2]),589.5,485,{a:'center',s:12.5,c:'#444'}));
ann.push(text('Location, ...',613,338,{s:11.5,c:'#444',w:500}));
legendLabels.forEach((l,i)=>{
  const y=350+20*i;
  shapes.push(rect(616,y,630,y+14,legendColors[i]));
  ann.push(text(l,635,y+7,{s:12,c:'#666'}));
});
ann.push(text('Percent Popul...',693,22,{s:11.5,c:'#444',w:500}));
ann.push(text('0.00',697,62,{s:12.5,c:'#666'}));
ann.push(text('17.13',783.5,62,{a:'right',s:12.5,c:'#666'}));
shapes.push(rect(304,84,684.5,319.5,'#72cdf3'));
shapes.push(rect(303.5,83.5,684.5,319.5,'rgba(0,0,0,0)','#dcdcdc','above'));
ann.push({text:'© Mapbox  © OSM',xref:'paper',yref:'paper',x:PX(305),y:PY(311),xanchor:'left',yanchor:'middle',showarrow:false,bgcolor:'#ffffff',borderpad:1,font:{family:'"Liberation Sans",sans-serif',size:10,color:'#666'}});
shapes.push(rect(0,573,800,600,'#f7f7f7'));
ann.push(text('View on Tableau Public',55,587,{s:12.4,c:'#555',w:500}));
ann.push(text('Share',733,587,{s:12,c:'#555',w:500}));
const ic='#555', ig='#c4c4c4';
[[42,587,4],[36.5,587,2],[47.5,587,2],[42,581.5,2],[42,592.5,2],[38,583,1.5],[46,583,1.5],[38,591,1.5],[46,591,1.5]].forEach(p=>{
  shapes.push(poly([p[0]-p[2],p[1],p[0]+p[2],p[1]],ic,1));
  shapes.push(poly([p[0],p[1]-p[2],p[0],p[1]+p[2]],ic,1));
});
shapes.push(poly([425,578,421,581,425,584],ig,1));
shapes.push(poly([421,581,431,581,436,585,436,590,431,595,424,595],ig,1));
shapes.push(poly([472,578,476,581,472,584],ig,1));
shapes.push(poly([476,581,466,581,461,585,461,590,466,595,473,595],ig,1));
shapes.push(poly([503,578,503,584],ig,1));
shapes.push(poly([509,578,505,581,509,584],ig,1));
shapes.push(poly([505,581,511,581,515,585,515,590,511,595,506,595],ig,1));
shapes.push(poly([549,579,553,582,549,585],ig,1));
shapes.push(poly([553,582,540,582,536,585,536,589,540,592,549,592,553,589],ig,1));
shapes.push(poly([566,585,574,585,570,590],ig,1,true,ig));
shapes.push(rect(595,578,596,596,'#d0d0d0',null,'above'));
shapes.push(poly([622,592,622,580,637,580,637,592,633,592],ic,1));
shapes.push(poly([629.5,585,629.5,597],ic,1));
shapes.push(poly([627,594,629.5,597,632,594],ic,1));
shapes.push(poly([642,585,650,585,646,590],ic,1,true,ic));
shapes.push(poly([673,582,673,579,689,579,689,582],ic,1));
shapes.push(poly([673,592,673,595,689,595,689,592],ic,1));
shapes.push(rect(676,582,686,592,'rgba(0,0,0,0)',ic,'above'));
shapes.push(poly([725,581,714,587,725,593],ic,1));
[[724,580.5],[713.5,587],[724,593.5]].forEach(c=>shapes.push({type:'circle',xref:'paper',yref:'paper',x0:PX(c[0]-2.5),x1:PX(c[0]+2.5),y0:PY(c[1]+2.5),y1:PY(c[1]-2.5),line:{color:ic,width:1},fillcolor:'#f7f7f7',layer:'above'}));

const gridC='#f0f0f0', tickF={family:FONT,size:12,color:'#8c8c8c'};
const layout={
  width:800,height:600,margin:{l:0,r:0,t:0,b:0},paper_bgcolor:'#fff',plot_bgcolor:'rgba(0,0,0,0)',showlegend:false,
  bargap:0.45,shapes:shapes,annotations:ann,
  xaxis:{domain:[PX(88),PX(295)],type:'category',categoryorder:'array',categoryarray:continents,range:[-0.5,5.5],tickson:'boundaries',ticks:'outside',ticklen:4,tickcolor:'#e2e2e2',tickfont:tickF,showline:true,linecolor:'#eaeaea',showgrid:false,fixedrange:true,tickangle:0,automargin:false},
  yaxis:{domain:[PY(298),PY(210)],range:[0,1065000],tickvals:deathTicks,showticklabels:false,ticks:'',gridcolor:gridC,showline:true,linecolor:'#eeeeee',zeroline:false,fixedrange:true,automargin:false},
  xaxis2:{anchor:'y2',domain:[PX(65.7),PX(605)],type:'date',range:['2019-12-17 12:00','2021-10-29'],tickvals:['2020-06-14','2020-12-13','2021-06-13'],ticktext:['Jun 14, 20','Dec 13, 20','Jun 13, 21'],ticks:'outside',ticklen:4,tickcolor:'#e2e2e2',tickfont:tickF,showline:true,linecolor:'#eaeaea',showgrid:false,fixedrange:true,automargin:false},
  yaxis2:{anchor:'x2',domain:[PY(504),PY(372)],range:[-1.0,17.1],tickvals:[0,5,10,15],tickfont:{family:FONT,size:13.5,color:'#8c8c8c'},ticks:'',gridcolor:gridC,zeroline:false,showline:true,linecolor:'#eeeeee',fixedrange:true,automargin:false},
  xaxis3:{anchor:'y3',domain:[PX(304),PX(684)],range:[-116,244],visible:false,fixedrange:true},
  yaxis3:{anchor:'x3',domain:[PY(319),PY(84)],range:[-1.62,2.268],visible:false,fixedrange:true}
};
Plotly.newPlot('g',data,layout,{displayModeBar:false,staticPlot:true});
</script></body></html>
